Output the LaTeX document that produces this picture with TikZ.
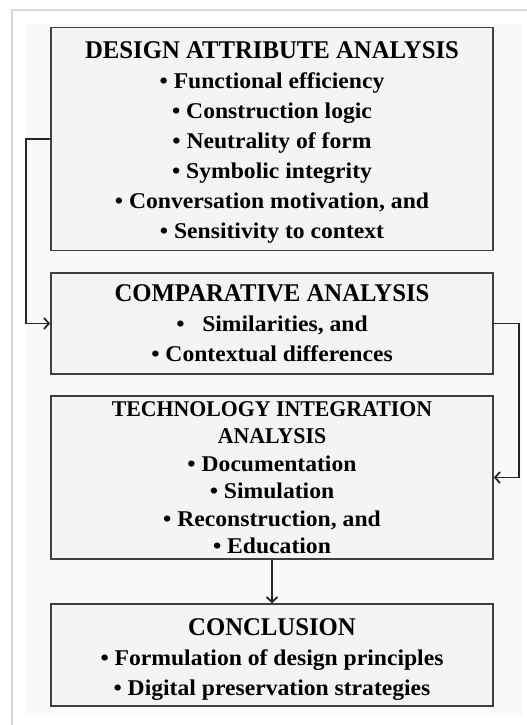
\documentclass[tikz,border=0pt]{standalone}
\usepackage{fontspec}
\setmainfont{Liberation Serif}[FakeStretch=1.05]
\newfontfamily\headfont{Liberation Serif}[FakeStretch=0.97]
\usetikzlibrary{positioning,arrows.meta}
\tikzset{
  phasebox/.style={draw=black!75,line width=1.6pt,fill=gray!9,inner sep=0pt,
    align=center,font=\bfseries\fontsize{22.5}{30}\selectfont},
  flowline/.style={-{Straight Barb[length=5pt,width=11pt]},line width=1.8pt,draw=black!85}
}
\newcommand{\hd}[1]{{\headfont\bfseries\fontsize{25.5}{30}\selectfont #1}}
\newcommand{\hds}[1]{{\headfont\bfseries\fontsize{22.5}{27.5}\selectfont #1}}
\newcommand{\bl}{\textbullet\ }
\begin{document}
\begin{tikzpicture}[x=1pt,y=-1pt]
    \useasboundingbox (0,0) rectangle (527,725);
    % page frame and panel
    \fill[white] (0,0) rectangle (527,725);
    \draw[gray!30,line width=2pt] (12,725) -- (12,10) -- (527,10);
    \fill[gray!5] (26,24) rectangle (523,715);
    % stages
    \node[phasebox,minimum width=442pt,minimum height=223pt] (design) at (272,139)
      {\rule{0pt}{24pt}\hd{DESIGN ATTRIBUTE ANALYSIS}\\ \bl Functional efficiency\\ \bl Construction logic\\
       \bl Neutrality of form\\ \bl Symbolic integrity\\ \bl Conversation motivation, and\\
       \bl Sensitivity to context};
    \node[phasebox,minimum width=442pt,minimum height=101pt] (compare) at (272,323.5)
      {\hd{COMPARATIVE ANALYSIS}\\ \bl\ \ Similarities, and\\ \bl Contextual differences};
    \node[phasebox,minimum width=442pt,minimum height=163pt,
      font=\bfseries\fontsize{22.5}{27.5}\selectfont] (tech) at (272,477.5)
      {\hds{TECHNOLOGY INTEGRATION}\\ \hds{ANALYSIS}\\
       \bl Documentation\\ \bl Simulation\\ \bl Reconstruction, and\\ \bl Education};
    \node[phasebox,minimum width=442pt,minimum height=102pt] (concl) at (272,655)
      {\rule{0pt}{26pt}\hd{CONCLUSION}\\ \bl Formulation of design principles\\ \bl Digital preservation strategies};
    % connectors
    \draw[flowline] (design.west) -- ++(-24,0) |- (compare.west);
    \draw[flowline] (compare.east) -- ++(25,0) |- (tech.east);
    \draw[flowline] (tech.south) -- (concl.north);
\end{tikzpicture}
\end{document}
